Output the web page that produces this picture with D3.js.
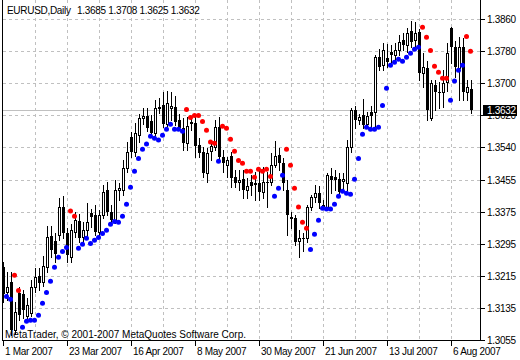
<!DOCTYPE html>
<html><head><meta charset="utf-8">
<script src="https://cdn.jsdelivr.net/npm/d3@7"></script>
<style>
html,body{margin:0;padding:0;background:#fff;}
svg{display:block;}
text{font-family:"Liberation Sans",Arial,sans-serif;font-size:10px;letter-spacing:-0.3px;}
text.wide{letter-spacing:0px;}
</style></head><body>
<svg id="c" width="520" height="360"></svg>
<script>
const symbolTitle = "EURUSD,Daily";
const lastQuote = "1.3685 1.3708 1.3625 1.3632";
const copyright = "MetaTrader, \u00A9 2001-2007 MetaQuotes Software Corp.";
const currentPrice = 1.3632;

const open = [1.3238,1.3175,1.3200,1.3080,1.3173,1.3170,1.3115,1.3123,1.3188,1.3215,
1.3200,1.3238,1.3316,1.3303,1.3318,1.3389,1.3323,1.3263,1.3326,1.3353,
1.3313,1.3331,1.3374,1.3368,1.3326,1.3368,1.3431,1.3376,1.3356,1.3431,
1.3431,1.3486,1.3564,1.3527,1.3569,1.3612,1.3617,1.3604,1.3574,1.3637,
1.3644,1.3597,1.3637,1.3639,1.3607,1.3587,1.3549,1.3599,1.3599,1.3544,
1.3527,1.3474,1.3529,1.3539,1.3589,1.3514,1.3494,1.3516,1.3464,1.3451,
1.3459,1.3431,1.3451,1.3449,1.3449,1.3426,1.3451,1.3451,1.3494,1.3519,
1.3499,1.3431,1.3363,1.3361,1.3303,1.3311,1.3311,1.3389,1.3414,1.3424,
1.3394,1.3386,1.3466,1.3464,1.3459,1.3454,1.3449,1.3539,1.3632,1.3607,
1.3619,1.3597,1.3627,1.3627,1.3765,1.3745,1.3762,1.3777,1.3770,1.3782,
1.3807,1.3795,1.3830,1.3807,1.3827,1.3725,1.3737,1.3612,1.3695,1.3677,
1.3677,1.3702,1.3837,1.3790,1.3737,1.3790,1.3677,1.3685];

const high = [1.3251,1.3226,1.3226,1.3150,1.3188,1.3180,1.3160,1.3206,1.3236,1.3236,
1.3266,1.3341,1.3341,1.3323,1.3411,1.3416,1.3336,1.3346,1.3376,1.3371,
1.3351,1.3399,1.3384,1.3394,1.3381,1.3444,1.3451,1.3394,1.3456,1.3449,
1.3506,1.3552,1.3577,1.3599,1.3622,1.3637,1.3637,1.3619,1.3657,1.3662,
1.3677,1.3680,1.3677,1.3667,1.3622,1.3612,1.3614,1.3612,1.3614,1.3562,
1.3539,1.3537,1.3549,1.3607,1.3614,1.3532,1.3514,1.3527,1.3481,1.3481,
1.3481,1.3461,1.3469,1.3476,1.3481,1.3489,1.3476,1.3524,1.3554,1.3537,
1.3511,1.3456,1.3376,1.3368,1.3331,1.3323,1.3394,1.3419,1.3444,1.3441,
1.3406,1.3474,1.3486,1.3481,1.3474,1.3474,1.3557,1.3637,1.3642,1.3622,
1.3660,1.3627,1.3642,1.3770,1.3785,1.3800,1.3797,1.3795,1.3800,1.3820,
1.3825,1.3837,1.3855,1.3853,1.3835,1.3775,1.3755,1.3707,1.3707,1.3702,
1.3732,1.3800,1.3840,1.3805,1.3815,1.3812,1.3707,1.3708];

const low = [1.3150,1.3155,1.3068,1.3070,1.3105,1.3110,1.3105,1.3115,1.3175,1.3180,
1.3190,1.3226,1.3263,1.3251,1.3306,1.3311,1.3251,1.3251,1.3313,1.3301,
1.3301,1.3316,1.3338,1.3318,1.3316,1.3361,1.3368,1.3343,1.3348,1.3406,
1.3419,1.3476,1.3514,1.3516,1.3552,1.3597,1.3579,1.3567,1.3567,1.3624,
1.3589,1.3589,1.3607,1.3594,1.3582,1.3532,1.3532,1.3582,1.3514,1.3514,
1.3464,1.3451,1.3506,1.3532,1.3506,1.3476,1.3464,1.3439,1.3439,1.3431,
1.3411,1.3411,1.3419,1.3406,1.3406,1.3411,1.3389,1.3444,1.3489,1.3481,
1.3431,1.3318,1.3336,1.3293,1.3263,1.3278,1.3301,1.3381,1.3401,1.3386,
1.3386,1.3384,1.3424,1.3431,1.3419,1.3431,1.3431,1.3527,1.3587,1.3597,
1.3587,1.3589,1.3589,1.3589,1.3732,1.3732,1.3740,1.3750,1.3757,1.3770,
1.3782,1.3777,1.3790,1.3787,1.3707,1.3690,1.3607,1.3607,1.3632,1.3637,
1.3639,1.3680,1.3750,1.3715,1.3657,1.3657,1.3657,1.3625];

const close = [1.3170,1.3188,1.3080,1.3125,1.3118,1.3130,1.3143,1.3188,1.3213,1.3198,
1.3240,1.3313,1.3281,1.3271,1.3389,1.3323,1.3268,1.3331,1.3356,1.3311,
1.3331,1.3351,1.3363,1.3326,1.3368,1.3426,1.3376,1.3356,1.3431,1.3436,
1.3486,1.3527,1.3527,1.3574,1.3612,1.3617,1.3587,1.3574,1.3637,1.3639,
1.3597,1.3650,1.3642,1.3602,1.3587,1.3549,1.3592,1.3602,1.3542,1.3524,
1.3474,1.3524,1.3542,1.3589,1.3514,1.3499,1.3506,1.3461,1.3449,1.3456,
1.3431,1.3441,1.3441,1.3444,1.3426,1.3451,1.3449,1.3494,1.3516,1.3499,
1.3449,1.3368,1.3358,1.3301,1.3311,1.3308,1.3389,1.3414,1.3424,1.3399,
1.3389,1.3469,1.3456,1.3456,1.3426,1.3459,1.3539,1.3632,1.3607,1.3614,
1.3594,1.3617,1.3617,1.3765,1.3740,1.3782,1.3752,1.3770,1.3782,1.3802,
1.3795,1.3825,1.3802,1.3825,1.3725,1.3740,1.3632,1.3700,1.3677,1.3675,
1.3700,1.3775,1.3790,1.3740,1.3790,1.3677,1.3690,1.3632];

// Parabolic SAR values per bar
const sar = [null,1.3165,1.3158,1.3218,1.3180,1.3088,1.3103,1.3105,1.3105,1.3118,
1.3148,1.3175,1.3203,1.3238,1.3263,1.3278,1.3288,1.3379,1.3366,1.3286,
1.3296,1.3311,1.3298,1.3306,1.3313,1.3323,1.3331,1.3346,1.3353,1.3351,
1.3366,1.3396,1.3439,1.3479,1.3511,1.3534,1.3547,1.3567,1.3562,1.3557,
1.3569,1.3584,1.3597,1.3584,1.3584,1.3579,1.3634,1.3614,1.3619,1.3619,
1.3604,1.3582,1.3552,1.3549,1.3504,1.3592,1.3587,1.3559,1.3529,1.3506,
1.3499,1.3479,1.3479,1.3464,1.3484,1.3479,1.3484,1.3466,1.3416,1.3436,
1.3469,1.3534,1.3494,1.3436,1.3389,1.3351,1.3336,1.3283,1.3321,1.3356,
1.3386,1.3384,1.3384,1.3396,1.3416,1.3429,1.3424,1.3421,1.3459,1.3511,
1.3572,1.3589,1.3584,1.3584,1.3589,1.3644,1.3687,1.3745,1.3752,1.3760,
1.3755,1.3765,1.3775,1.3785,1.3790,1.3840,1.3815,1.3782,1.3742,1.3727,
1.3712,1.3712,1.3657,1.3705,1.3732,1.3745,1.3817,1.3780];
// b = below price (blue), r = above price (red)
const sarSide = ("- bb rr bbbbb bbbbb bb rr bbbbb bbbbb bbbbb bbbbb bbbbb bb rrrrr rrr b " +
  "rrrrr rrrrr rrr bbb rrrrr r bbbbb bbbbb bbbbb bbbbb bbbbb bbb rrrrr rr bbbb rr").replace(/ /g,"").split("");

const dateTickIndex = [0,16,32,48,64,80,96,112];
const dateLabels = ["1 Mar 2007","23 Mar 2007","16 Apr 2007","8 May 2007","30 May 2007","21 Jun 2007","13 Jul 2007","6 Aug 2007"];
const priceTicks = [1.3860,1.3780,1.3700,1.3620,1.3540,1.3455,1.3375,1.3295,1.3215,1.3135,1.3055];

const svg = d3.select("#c");
const n = open.length;
const axisX = 480, axisY = 340;
const x = d3.scaleLinear().domain([0, n-1]).range([3, 3 + 4*(n-1)]);
const y = d3.scaleLinear().domain([1.3055, 1.3860]).range([340, 19]);
const row = v => Math.floor(y(v) + 0.4);

svg.append("rect").attr("width",520).attr("height",360).attr("fill","#fff");

// grid
const grid = svg.append("g").attr("stroke","#c0c0c0").attr("stroke-dasharray","3,3").attr("shape-rendering","crispEdges");
grid.selectAll("line.h").data(priceTicks.filter(v => row(v) < axisY)).join("line").attr("class","h")
  .attr("x1",3).attr("x2",axisX).attr("y1",d=>row(d)+0.5).attr("y2",d=>row(d)+0.5);
const vIdx = d3.range(8, n, 8);
grid.selectAll("line.v").data(vIdx).join("line").attr("class","v")
  .attr("x1",d=>Math.round(x(d))+0.5).attr("x2",d=>Math.round(x(d))+0.5).attr("y1",0).attr("y2",axisY);

// bid line
svg.append("line").attr("x1",3).attr("x2",axisX).attr("y1",row(currentPrice)+0.5).attr("y2",row(currentPrice)+0.5)
  .attr("stroke","#c0c0c0").attr("shape-rendering","crispEdges");

// candles
const bars = open.map((o,i)=>({i,o,h:high[i],l:low[i],c:close[i]}));
const cg = svg.append("g").attr("shape-rendering","crispEdges");
cg.selectAll("line.wick").data(bars).join("line").attr("class","wick")
  .attr("x1",d=>Math.round(x(d.i))+0.5).attr("x2",d=>Math.round(x(d.i))+0.5)
  .attr("y1",d=>row(d.h)).attr("y2",d=>row(d.l)+1).attr("stroke","#000");
cg.selectAll("rect.body").data(bars).join("rect").attr("class","body")
  .each(function(d){
    const X = Math.round(x(d.i));
    const yo = row(d.o), yc = row(d.c);
    const sel = d3.select(this);
    if (d.c > d.o && yo - yc >= 1) {
      sel.attr("x",X-0.5).attr("y",yc+0.5).attr("width",2).attr("height",yo-yc)
        .attr("fill","#fff").attr("stroke","#000");
    } else {
      const top = Math.min(yo,yc), bot = Math.max(yo,yc);
      sel.attr("x",X-1).attr("y",top).attr("width",3).attr("height",Math.max(bot-top,1)).attr("fill","#000");
    }
  });

// Parabolic SAR dots
const sarPts = sar.map((v,i)=>({i,v,s:sarSide[i]})).filter(d=>d.v!==null);
svg.append("g").selectAll("circle").data(sarPts).join("circle")
  .attr("cx",d=>Math.round(x(d.i))-0.5).attr("cy",d=>y(d.v)+0.3).attr("r",2.5)
  .attr("fill",d=>d.s==="r"?"#ff0000":"#0000ff");

// frame / axes
const fr = svg.append("g").attr("stroke","#000").attr("shape-rendering","crispEdges");
fr.append("line").attr("x1",2.5).attr("x2",2.5).attr("y1",0).attr("y2",axisY+1);
fr.append("line").attr("x1",axisX+0.5).attr("x2",axisX+0.5).attr("y1",0).attr("y2",axisY+1);
fr.append("line").attr("x1",2).attr("x2",axisX+1).attr("y1",axisY+0.5).attr("y2",axisY+0.5);

// price axis
const pa = svg.append("g");
pa.selectAll("line").data(priceTicks).join("line")
  .attr("x1",axisX+1).attr("x2",axisX+5).attr("y1",d=>row(d)+0.5).attr("y2",d=>row(d)+0.5)
  .attr("stroke","#000").attr("shape-rendering","crispEdges");
pa.selectAll("text").data(priceTicks).join("text")
  .attr("x",487).attr("y",d=>row(d)+4).attr("fill","#000").text(d=>d.toFixed(4));

// current price box (drawn over the partially hidden 1.3620 label, as in the original)
const cpRow = row(currentPrice);
svg.append("rect").attr("x",483).attr("y",cpRow-5).attr("width",34).attr("height",11).attr("fill","#000");
svg.append("text").attr("x",487).attr("y",cpRow+4).attr("fill","#fff").text(currentPrice.toFixed(4));

// date axis
const da = svg.append("g");
da.selectAll("line").data(dateTickIndex).join("line")
  .attr("x1",d=>Math.round(x(d))+0.5).attr("x2",d=>Math.round(x(d))+0.5).attr("y1",axisY+1).attr("y2",axisY+6)
  .attr("stroke","#000").attr("shape-rendering","crispEdges");
da.selectAll("text").data(dateTickIndex).join("text")
  .attr("x",d=>Math.round(x(d))+2).attr("y",355).attr("fill","#000").text((d,i)=>dateLabels[i]);

// texts
svg.append("text").attr("x",7).attr("y",14).text(symbolTitle);
svg.append("text").attr("x",77).attr("y",14).text(lastQuote);
svg.append("text").attr("class","wide").attr("x",5).attr("y",338).text(copyright);
</script>
</body></html>
